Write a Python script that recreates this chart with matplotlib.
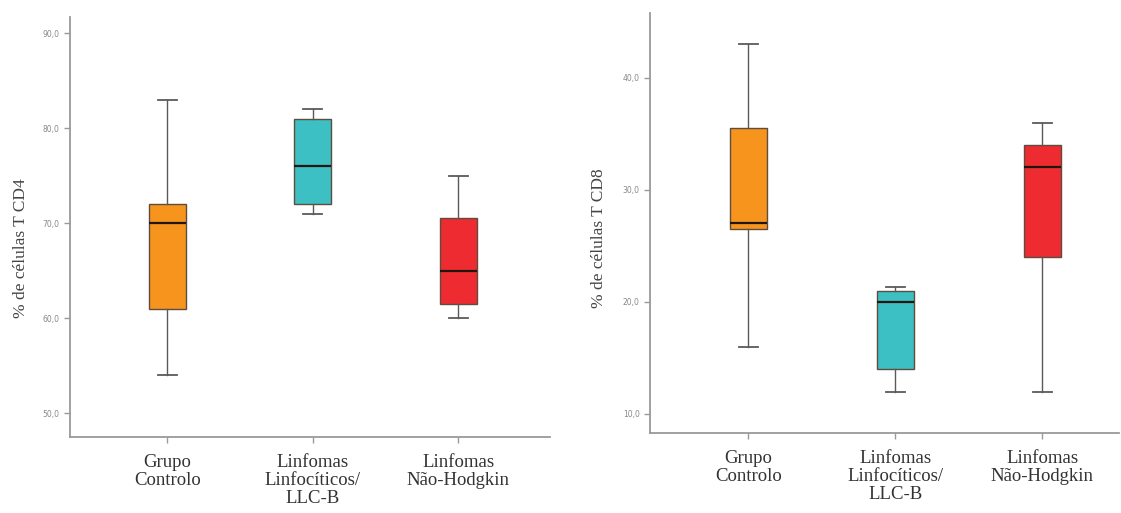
import numpy as np
import matplotlib.pyplot as plt
from matplotlib.ticker import FuncFormatter

groups = ["Grupo\nControlo", "Linfomas\nLinfocíticos/\nLLC-B", "Linfomas\nNão-Hodgkin"]
colors = ["#F7941D", "#3CC0C4", "#EE2B30"]

# CD4 (%): whisker low, Q1, median, Q3, whisker high
cd4_low = [54.0, 71.0, 60.0]
cd4_q1 = [61.0, 72.0, 61.5]
cd4_med = [70.0, 76.0, 65.0]
cd4_q3 = [72.0, 81.0, 70.5]
cd4_high = [83.0, 82.0, 75.0]

# CD8 (%)
cd8_low = [16.0, 12.0, 12.0]
cd8_q1 = [26.5, 14.0, 24.0]
cd8_med = [27.0, 20.0, 32.0]
cd8_q3 = [35.5, 21.0, 34.0]
cd8_high = [43.0, 21.3, 36.0]

cd4_ticks = [50, 60, 70, 80, 90]
cd8_ticks = [10, 20, 30, 40]

SERIF = "Liberation Serif"
AXCOL = "#9a9a9a"


def make_stats(low, q1, med, q3, high):
    stats = []
    for i in range(len(low)):
        stats.append(dict(whislo=low[i], q1=q1[i], med=med[i], q3=q3[i],
                          whishi=high[i], fliers=[]))
    return stats


def draw(ax, stats, ticks, ylim, xlim, ylabel, label_xy):
    bp = ax.bxp(stats, positions=range(len(stats)), widths=0.255,
                patch_artist=True, showfliers=False,
                boxprops=dict(edgecolor="#5e4c3c", linewidth=1.0),
                medianprops=dict(color="#20160f", linewidth=1.6),
                whiskerprops=dict(color="#5a5a5a", linewidth=1.0),
                capprops=dict(color="#5a5a5a", linewidth=1.3),
                capwidths=0.13)
    for patch, c in zip(bp["boxes"], colors):
        patch.set_facecolor(c)
    ax.set_ylim(*ylim)
    ax.set_xlim(*xlim)
    ax.set_yticks(ticks)
    ax.yaxis.set_major_formatter(FuncFormatter(lambda v, p: f"{v:.1f}".replace(".", ",")))
    ax.set_xticks(range(len(groups)))
    ax.set_xticklabels(groups, fontsize=13.5, family=SERIF, color="#333333",
                       linespacing=1.1)
    ax.tick_params(axis="y", labelsize=5.5, labelcolor="#888888", color=AXCOL,
                   length=4, width=1)
    ax.tick_params(axis="x", color=AXCOL, length=4, width=1, pad=8)
    for s in ["top", "right"]:
        ax.spines[s].set_visible(False)
    for s in ["left", "bottom"]:
        ax.spines[s].set_color(AXCOL)
        ax.spines[s].set_linewidth(1.3)
    ax.set_ylabel(ylabel, fontsize=12.5, family=SERIF, color="#444444")
    ax.yaxis.set_label_coords(*label_xy)


fig = plt.figure(figsize=(11.21, 5.13), dpi=100)
ax1 = fig.add_axes([0.0624, 0.148, 0.428, 0.819])
ax2 = fig.add_axes([0.580, 0.156, 0.418, 0.819])

draw(ax1, make_stats(cd4_low, cd4_q1, cd4_med, cd4_q3, cd4_high),
     cd4_ticks, (47.5, 91.7), (-0.67, 2.63), "% de células T CD4", (-0.086, 0.45))
draw(ax2, make_stats(cd8_low, cd8_q1, cd8_med, cd8_q3, cd8_high),
     cd8_ticks, (8.3, 45.8), (-0.667, 2.52), "% de células T CD8", (-0.092, 0.464))

fig.savefig("out.png", dpi=100)
